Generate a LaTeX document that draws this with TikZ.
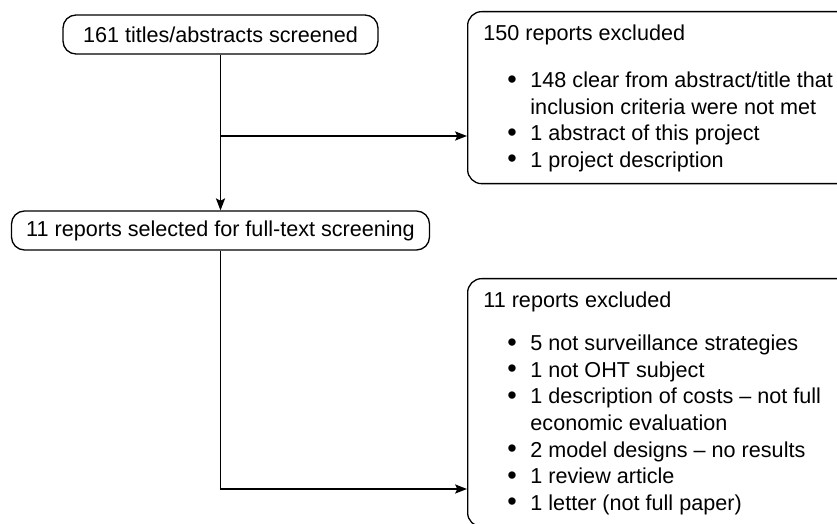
\documentclass[tikz,border=0pt]{standalone}
\usepackage{fontspec}
\setmainfont{Liberation Sans}
\usepackage{tikz}
\usetikzlibrary{positioning, arrows.meta}

\newcommand{\exdot}{\raisebox{-0.2pt}{\scalebox{1.25}{\textbullet}}}

\begin{document}
\begin{tikzpicture}[x=0.5pt, y=-0.5pt,
    every node/.style={font=\fontsize{10.8}{13.3}\selectfont},
    stagebox/.style={draw, line width=0.65pt, rounded corners=6.5pt, inner sep=0pt,
      minimum height=19.5pt},
    exbox/.style={draw, line width=0.65pt, rounded corners=7pt, inner sep=0pt,
      anchor=north west},
    extext/.style={anchor=north west, inner sep=0pt},
    flow/.style={line width=0.65pt, -{Stealth[length=6pt, width=4.6pt, inset=1.2pt]}}]
      \useasboundingbox (0,0) rectangle (837,524);

      % Screening stages
      \node[stagebox, minimum width=157.5pt] (screen) at (220.5,34.5) {161 titles/abstracts screened};
      \node[stagebox, minimum width=209pt] (fulltext) at (220.5,230.5) {11 reports selected for full-text screening};

      % Exclusion boxes
      \node[exbox, minimum width=215pt, minimum height=86pt] (excl1) at (467,11) {};
      \node[extext] (excl1txt) at ([shift={(8pt,-5pt)}]excl1.north west) {%
        \begin{tabular}{@{\hspace{12pt}}l@{\hspace{6.8pt}}l@{}}
          \multicolumn{2}{@{}l@{}}{150 reports excluded}\\[10.5pt]
          \exdot & 148 clear from abstract/title that\\
                 & inclusion criteria were not met\\
          \exdot & 1 abstract of this project\\
          \exdot & 1 project description
        \end{tabular}};

      \node[exbox, minimum width=215pt, minimum height=124pt] (excl2) at (467,278) {};
      \node[extext] (excl2txt) at ([shift={(8pt,-5pt)}]excl2.north west) {%
        \begin{tabular}{@{\hspace{12pt}}l@{\hspace{6.8pt}}l@{}}
          \multicolumn{2}{@{}l@{}}{11 reports excluded}\\[8.5pt]
          \exdot & 5 not surveillance strategies\\
          \exdot & 1 not OHT subject\\
          \exdot & 1 description of costs -- not full\\
                 & economic evaluation\\
          \exdot & 2 model designs -- no results\\
          \exdot & 1 review article\\
          \exdot & 1 letter (not full paper)
        \end{tabular}};

      % Connectors
      \coordinate (split1) at (220.5,136);
      \coordinate (split2) at (220.5,489);
      \draw[flow] (screen.south) -- (fulltext.north);
      \draw[flow] (split1) -- (split1 -| excl1.west);
      \draw[flow] (fulltext.south) -- (split2) -- (split2 -| excl2.west);
\end{tikzpicture}
\end{document}
